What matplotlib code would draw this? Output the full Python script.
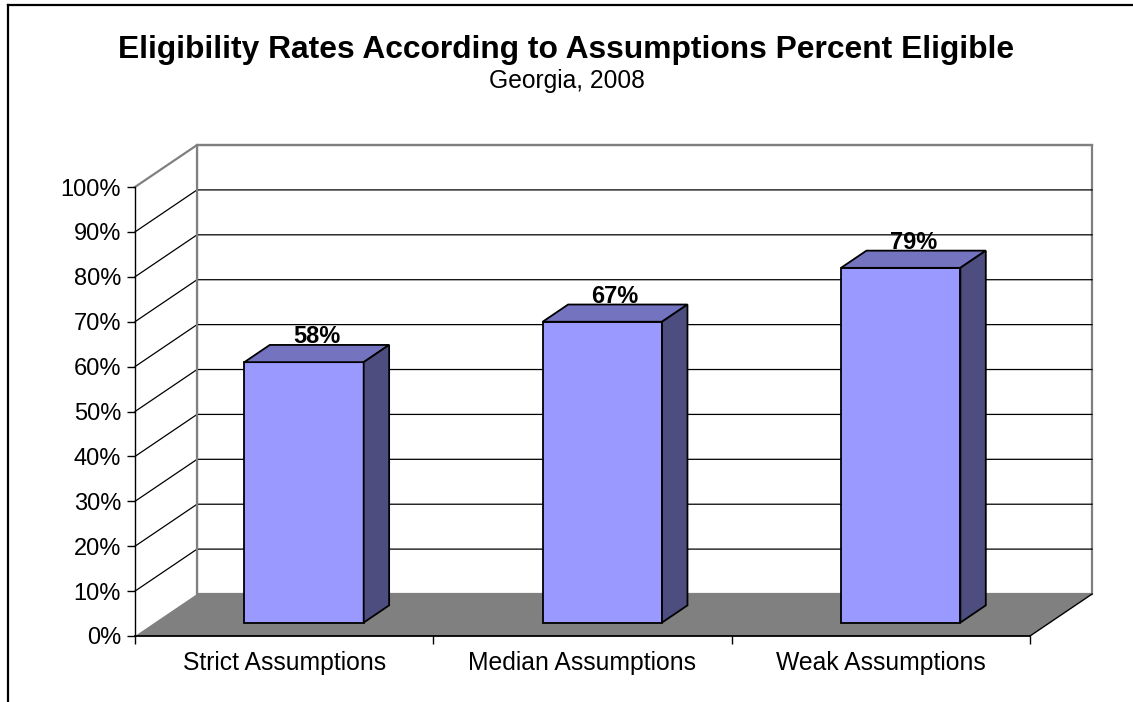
import matplotlib
matplotlib.use("Agg")
import matplotlib.pyplot as plt
from matplotlib.patches import Polygon
from matplotlib.lines import Line2D

plt.rcParams['font.family'] = ['Liberation Sans', 'DejaVu Sans']

categories = ['Strict Assumptions', 'Median Assumptions', 'Weak Assumptions']
values = [58, 67, 79]
yticks = list(range(0, 101, 10))
ytick_labels = ['%d%%' % t for t in yticks]

# 3d look: depth offset of the back wall, in data units
DX = 0.208
DY = 9.35
d0, d1 = 0.32, 0.73   # bar front / back depth
bw = 0.4              # bar width (category units)

front_col = '#9999FF'
top_col = '#7373BF'
side_col = '#4D4D80'


def p(x, y, d):
    return (x + d * DX, y + d * DY)


fig = plt.figure(figsize=(11.33, 7.02), dpi=100)
ax = fig.add_axes([135 / 1133, 66 / 702, 895 / 1133, 449 / 702])
ax.set_xlim(0, len(categories))
ax.set_ylim(0, 100)
ax.patch.set_visible(False)

n = len(categories)

# walls
back = Polygon([p(0, 0, 1), p(n, 0, 1), p(n, 100, 1), p(0, 100, 1)], closed=True,
               facecolor='white', edgecolor='#808080', lw=1.6, clip_on=False, zorder=0.5)
ax.add_patch(back)
left = Polygon([p(0, 0, 0), p(0, 0, 1), p(0, 100, 1), p(0, 100, 0)], closed=True,
               facecolor='white', edgecolor='none', clip_on=False, zorder=0.5)
ax.add_patch(left)

# gridlines on back and side walls
for t in yticks[1:]:
    c = '#808080' if t == 100 else 'black'
    lw = 1.6 if t == 100 else 0.9
    pts = [p(0, t, 0), p(0, t, 1), p(n, t, 1)]
    ax.add_line(Line2D([q[0] for q in pts], [q[1] for q in pts], color=c, lw=lw,
                       clip_on=False, zorder=0.8))
ax.add_line(Line2D([p(0, 0, 1)[0], p(0, 100, 1)[0]], [p(0, 0, 1)[1], p(0, 100, 1)[1]],
                   color='#808080', lw=1.6, clip_on=False, zorder=0.8))

# floor
floor = Polygon([p(0, 0, 0), p(n, 0, 0), p(n, 0, 1), p(0, 0, 1)], closed=True,
                facecolor='#808080', edgecolor='none', clip_on=False, zorder=1)
ax.add_patch(floor)
ax.add_line(Line2D([p(n, 0, 0)[0], p(n, 0, 1)[0]], [p(n, 0, 0)[1], p(n, 0, 1)[1]],
                   color='black', lw=1.0, clip_on=False, zorder=1.1))

# bars
for i, v in enumerate(values):
    xl = i + 0.5 - bw / 2
    xr = i + 0.5 + bw / 2
    faces = [
        ([p(xl, 0, d0), p(xr, 0, d0), p(xr, v, d0), p(xl, v, d0)], front_col),
        ([p(xl, v, d0), p(xr, v, d0), p(xr, v, d1), p(xl, v, d1)], top_col),
        ([p(xr, 0, d0), p(xr, 0, d1), p(xr, v, d1), p(xr, v, d0)], side_col),
    ]
    for pts, col in faces:
        ax.add_patch(Polygon(pts, closed=True, facecolor=col, edgecolor='black',
                             lw=1.3, joinstyle='miter', clip_on=False, zorder=3))
    lx = p(i + 0.5, v, (d0 + d1) / 2)[0]
    ly = p(i + 0.5, v, d1)[1]
    ax.text(lx, ly - 0.7, '%d%%' % v, ha='center', va='bottom', fontsize=17,
            fontweight='bold', zorder=4)

# axes
for s in ['top', 'right']:
    ax.spines[s].set_visible(False)
ax.spines['left'].set_linewidth(1.0)
ax.spines['bottom'].set_linewidth(1.3)
ax.spines['left'].set_zorder(2)
ax.set_yticks(yticks)
ax.set_yticklabels(ytick_labels, fontsize=17)
ax.tick_params(axis='y', direction='out', length=6, width=1.0, pad=4)
ax.set_xticks(range(n + 1))
ax.set_xticklabels([''] * (n + 1))
ax.set_xticks([i + 0.5 for i in range(n)], minor=True)
ax.set_xticklabels(categories, minor=True, fontsize=17.8)
ax.tick_params(axis='x', which='major', direction='out', length=6, width=1.0)
ax.tick_params(axis='x', which='minor', length=0, pad=11)

fig.text(0.5, 1 - 50 / 702, 'Eligibility Rates According to Assumptions Percent Eligible',
         ha='center', va='center', fontsize=22.9, fontweight='bold')
fig.text(0.5, 1 - 81 / 702, 'Georgia, 2008', ha='center', va='center', fontsize=17.7)

# chart frame
fig.add_artist(Line2D([8 / 1133, 8 / 1133], [0, 1 - 5 / 702], color='black', lw=1.6,
                      transform=fig.transFigure))
fig.add_artist(Line2D([8 / 1133, 1], [1 - 5 / 702, 1 - 5 / 702], color='black', lw=1.6,
                      transform=fig.transFigure))

fig.savefig('out.png', dpi=100)
